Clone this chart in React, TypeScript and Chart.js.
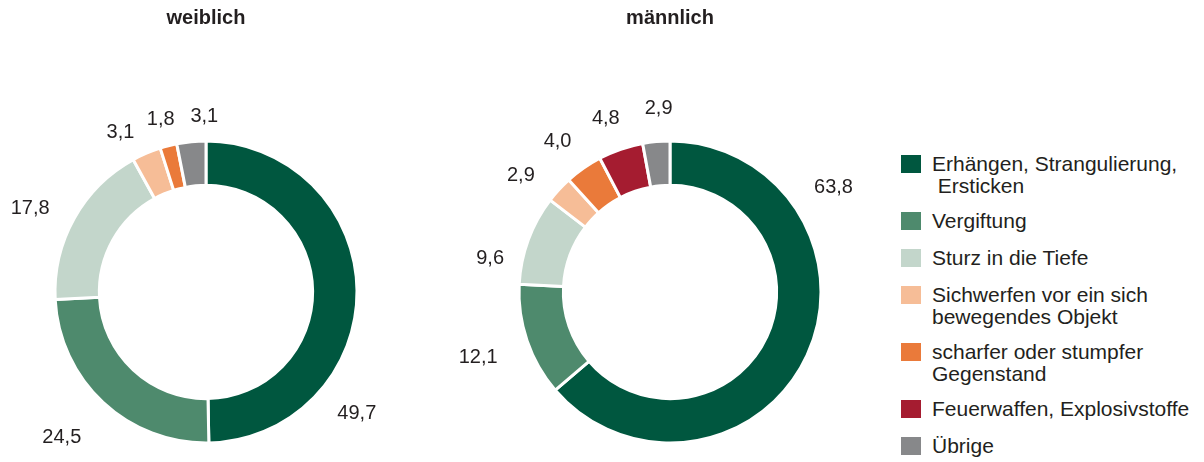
import React, { useEffect, useRef } from "react";
import { Chart, registerables } from "chart.js";

Chart.register(...registerables);

const categories = [
  "Erhängen, Strangulierung,\n Ersticken",
  "Vergiftung",
  "Sturz in die Tiefe",
  "Sichwerfen vor ein sich\nbewegendes Objekt",
  "scharfer oder stumpfer\nGegenstand",
  "Feuerwaffen, Explosivstoffe",
  "Übrige",
];
const colors = ["#00573F", "#4E8A6D", "#C3D6CB", "#F6BD97", "#EA7A3A", "#A51C30", "#87888A"];
const weiblichValues = [49.7, 24.5, 17.8, 3.1, 1.8, 0, 3.1];
const maennlichValues = [63.8, 12.1, 9.6, 2.9, 4.0, 4.8, 2.9];
// label placement: fraction along each segment, and extra radial distance
const weiblichLabelPos = [0.72, 0.52, 0.44, 0.05, 0.45, 0.5, 0.95];
const weiblichLabelExtra = [0, 12, 0, -6, -6, 0, -6];
const maennlichLabelPos = [0.25, 0.5, 0.22, 0.05, 0.37, 0.43, 0.66];
const maennlichLabelExtra = [0, 8, -6, 0, 0, 0, 2];

const TEXT = "#231F20";
const FONT = "'Liberation Sans', Arial, sans-serif";

const fmt = (v: number) => v.toFixed(1).replace(".", ",");

const labelPlugin = {
  id: "outerLabels",
  afterDatasetsDraw(chart: any, _args: any, opts: any) {
    const ctx = chart.ctx;
    const meta = chart.getDatasetMeta(0);
    const data = chart.data.datasets[0].data as number[];
    const pos: number[] = opts.pos || [];
    const extra: number[] = opts.extra || [];
    ctx.save();
    ctx.fillStyle = TEXT;
    ctx.font = `20px ${FONT}`;
    ctx.textAlign = "center";
    ctx.textBaseline = "middle";
    meta.data.forEach((arc: any, i: number) => {
      if (!data[i]) return;
      const { startAngle, endAngle, outerRadius, x, y } = arc.getProps(
        ["startAngle", "endAngle", "outerRadius", "x", "y"],
        true
      );
      const f = pos[i] ?? 0.5;
      const a = startAngle + f * (endAngle - startAngle);
      const text = fmt(data[i]);
      const hw = ctx.measureText(text).width / 2;
      const hh = 7;
      const r = outerRadius + 23 + (extra[i] || 0) + Math.abs(Math.cos(a)) * hw + Math.abs(Math.sin(a)) * hh;
      ctx.fillText(text, x + Math.cos(a) * r, y + Math.sin(a) * r);
    });
    ctx.restore();
  },
};

function Donut({ title, values, pos, extra, width }: { title: string; values: number[]; pos: number[]; extra: number[]; width: number }) {
  const ref = useRef<HTMLCanvasElement>(null);
  useEffect(() => {
    const chart = new Chart(ref.current!, {
      type: "doughnut",
      data: {
        labels: categories,
        datasets: [
          {
            data: values,
            backgroundColor: colors,
            borderColor: "#ffffff",
            borderWidth: 3,
          },
        ],
      },
      options: {
        animation: false,
        responsive: false,
        radius: 151,
        cutout: 119,
        layout: { padding: 0 },
        plugins: {
          legend: { display: false },
          tooltip: { enabled: false },
          title: {
            display: true,
            text: title,
            color: TEXT,
            font: { family: FONT, size: 20, weight: "bold" },
            padding: { top: 6, bottom: 92 },
          },
          outerLabels: { pos, extra },
        } as any,
      },
      plugins: [labelPlugin],
    });
    return () => chart.destroy();
  }, []);
  return <canvas ref={ref} width={width} height={462} style={{ width, height: 462, display: "block" }} />;
}

export default function App() {
  return (
    <div style={{ position: "absolute", left: 0, top: 0, width: 1204, height: 462, background: "#fff", overflow: "hidden" }}>
      <div style={{ position: "absolute", left: 6, top: 0 }}>
        <Donut title="weiblich" values={weiblichValues} pos={weiblichLabelPos} extra={weiblichLabelExtra} width={400} />
      </div>
      <div style={{ position: "absolute", left: 440, top: 0 }}>
        <Donut title="männlich" values={maennlichValues} pos={maennlichLabelPos} extra={maennlichLabelExtra} width={460} />
      </div>
      <div style={{ position: "absolute", left: 901, top: 153, fontFamily: FONT, fontSize: 21, color: TEXT }}>
        {categories.map((c, i) => (
          <div key={i} style={{ display: "flex", alignItems: "flex-start", marginBottom: c.includes("\n") ? 13 : 15 }}>
            <div style={{ width: 20, height: 18, background: colors[i], marginTop: 2, flex: "none" }} />
            <div style={{ marginLeft: 11, whiteSpace: "pre", lineHeight: "22px" }}>{c}</div>
          </div>
        ))}
      </div>
    </div>
  );
}
